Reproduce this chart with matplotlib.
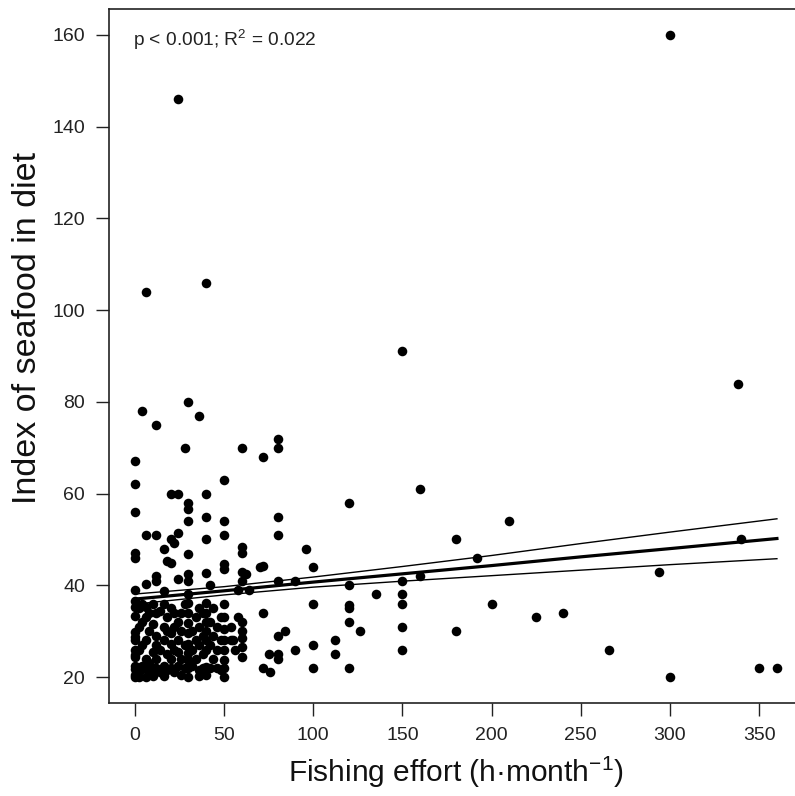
import matplotlib
matplotlib.use("Agg")
import matplotlib.pyplot as plt

plt.rcParams['font.family'] = ['Liberation Sans', 'DejaVu Sans']
plt.rcParams['mathtext.fontset'] = 'custom'
plt.rcParams['mathtext.rm'] = 'Liberation Sans'
plt.rcParams['mathtext.default'] = 'regular'

# ---- data ----
outlier_effort = [24, 300, 6, 40, 150, 338, 30, 4, 36, 12, 28, 60, 72, 80, 80,
                  0, 0, 50, 0, 20, 24, 40, 30, 30, 30, 40, 50, 50, 6, 12, 24,
                  20, 22, 40, 16, 0, 0, 30, 60, 60, 70, 72, 18, 20, 50, 50, 40,
                  60, 62, 12, 12, 30, 30, 24, 6, 0, 42, 16, 58, 60, 64, 80, 80,
                  96, 100, 80, 90, 120, 160, 120, 135, 150, 150, 150, 150, 150,
                  100, 120, 120, 120, 126, 80, 84, 100, 112, 112, 90, 75, 80, 72,
                  210, 180, 192, 160, 340, 294, 200, 180, 225, 240, 266, 300,
                  350, 360, 120, 100, 76, 72, 80, 55, 60, 60, 60, 60, 60]
outlier_seafood = [146, 160, 104, 106, 91, 84, 80, 78, 77, 75, 70, 70, 68, 72, 70,
                   67, 62, 63, 56, 60, 60, 60, 58, 56.6, 54, 55, 54, 51, 51, 51, 51.3,
                   50.2, 49.2, 50, 48, 47, 46, 46.8, 48.3, 47.1, 43.9, 44.3, 45.4, 44.8, 44.6, 43.6, 42.7,
                   43, 42.5, 42, 41, 42.4, 41, 41.3, 40.3, 39, 40.1, 38.8, 39, 41, 39, 55, 51,
                   48, 44, 41, 41, 58, 61, 40, 38, 41, 38, 36, 31, 26,
                   36, 35.7, 35, 32, 30, 29, 30, 27, 28, 25, 26, 25, 25, 34,
                   54, 50, 46, 42, 50, 43, 36, 30, 33, 34, 26, 20,
                   22, 22, 22, 22, 21, 22, 24, 28, 32, 30, 28.4, 26.6, 24.4]

cluster_effort = ([0] * 13 + [2] * 5 + [4] * 5 + [6] * 6 + [8] * 4 + [10] * 5 +
                  [12] * 5 + [14] * 3 + [16] * 5 + [18] * 4 + [20] * 5 + [22] * 4 +
                  [24] * 4 + [26] * 4 + [28] * 3 + [30] * 10 + [32] * 3 + [34] * 3 +
                  [36] * 5 + [38] * 4 + [40] * 8 + [42] * 3 + [44] * 3 + [46] * 3 +
                  [48] * 3 + [50] * 8 + [54] * 2 + [56] + [58])
cluster_seafood = [20, 20.5, 21.7, 22.5, 24.4, 24.8, 25.9, 28.1, 28.8, 29.9, 33.2, 35.3, 36.5,
                   20, 21.5, 26, 31, 35,
                   21.7, 22.5, 27, 32, 36,
                   20, 22, 24, 28, 33, 35.3,
                   21, 23, 30, 34,
                   20.3, 22, 25.5, 31.5, 36,
                   21.9, 24, 27, 29, 33.9,
                   21.2, 26, 34.5,
                   20.3, 22.5, 28, 31, 36,
                   21.5, 25, 30, 33,
                   22, 24, 27.3, 29.5, 35,
                   21, 26, 31, 33.9,
                   22.5, 25.5, 28, 32,
                   20.5, 24, 30, 34,
                   22, 27, 36,
                   20, 21.9, 23.7, 25.2, 27.3, 29.5, 31.7, 33.9, 36.1, 38,
                   22.5, 26, 30,
                   24, 28, 33,
                   20.3, 21.5, 27, 31, 35,
                   22, 25, 29, 33.9,
                   20.5, 22.2, 25.9, 28, 30, 32, 34, 36.1,
                   22, 27, 32,
                   24, 29, 35,
                   22, 26, 31,
                   21.5, 28, 33,
                   20, 22, 23.7, 25.9, 28, 30.5, 33, 36,
                   28.1, 31,
                   26,
                   33]

fit_x = [0, 50, 100, 150, 200, 250, 300, 360]
fit_y = [37.0, 38.8, 40.7, 42.5, 44.3, 46.2, 48.0, 50.2]
ci_upper = [38.1, 39.7, 41.8, 44.1, 46.5, 49.1, 51.6, 54.5]
ci_lower = [35.9, 37.9, 39.6, 40.9, 42.1, 43.3, 44.5, 45.8]

x_ticks = [0, 50, 100, 150, 200, 250, 300, 350]
y_ticks = [20, 40, 60, 80, 100, 120, 140, 160]

annotation = "p < 0.001; R$^2$ = 0.022"
x_label = "Fishing effort (h·month$^{-1}$)"
y_label = "Index of seafood in diet"

# ---- figure ----
W, H = 795, 796
fig = plt.figure(figsize=(W / 100, H / 100), dpi=100)
left, right, top, bottom = 109.3, 802.6, 9.3, 702.7
ax = fig.add_axes([left / W, (H - bottom) / H, (right - left) / W, (bottom - top) / H])

ax.plot(outlier_effort + cluster_effort, outlier_seafood + cluster_seafood,
        'o', color='black', markersize=6.9, markeredgewidth=0, zorder=2)
ax.plot(fit_x, ci_upper, color='black', lw=1.0, zorder=3)
ax.plot(fit_x, ci_lower, color='black', lw=1.0, zorder=3)
ax.plot(fit_x, fit_y, color='black', lw=2.3, zorder=3)

ax.set_xlim(-14.4, 374.4)
ax.set_ylim(14.4, 165.6)
ax.set_xticks(x_ticks)
ax.set_yticks(y_ticks)
ax.tick_params(direction='out', length=9.5, width=1.0, pad=8, labelsize=14, colors='#222222')
for s in ax.spines.values():
    s.set_linewidth(1.2)
    s.set_color('#222222')

ax.text(-1, 158.9, annotation, ha='left', va='center', fontsize=13.8, color='#222222')
ax.set_xlabel(x_label, fontsize=21.5, labelpad=8, color='#111111')
ax.set_ylabel(y_label, fontsize=24.5, color='#111111')
ax.yaxis.set_label_coords(-0.095, 0.541)

fig.savefig("out.png", dpi=100)
